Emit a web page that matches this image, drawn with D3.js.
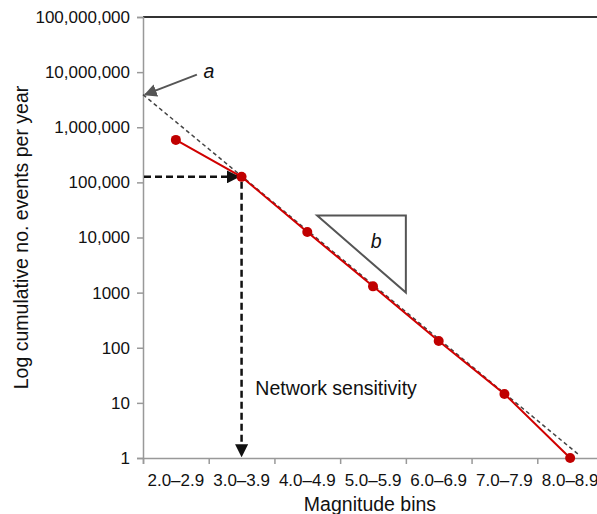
<!DOCTYPE html>
<html>
<head>
<meta charset="utf-8">
<script src="https://cdn.jsdelivr.net/npm/d3@7"></script>
<style>
body { margin: 0; background: #fff; }
text { font-family: "Liberation Sans", Arial, sans-serif; }
</style>
</head>
<body>
<svg></svg>
<script>
var bins = ["2.0–2.9", "3.0–3.9", "4.0–4.9", "5.0–5.9", "6.0–6.9", "7.0–7.9", "8.0–8.9"];
var counts = [590000, 126000, 12600, 1300, 133, 14.5, 1];
var yTicks = [1, 10, 100, 1000, 10000, 100000, 1000000, 10000000, 100000000];
// fitted Gutenberg-Richter line, position in bin units
var fitPos = [0, 6.65];
var fitVals = [3900000, 1.1];
// annotation anchors (bin units, events per year)
var triPos = [2.65, 4.0, 4.0];
var triVals = [25000, 25000, 1000];

var width = 597, height = 514;
var svg = d3.select("svg").attr("width", width).attr("height", height);

var plotLeft = 143, plotRight = 603, plotTop = 17, plotBottom = 458;

var x = d3.scaleBand().domain(bins).range([plotLeft, plotRight]).padding(0);
var xPos = d3.scaleLinear().domain([0, bins.length]).range([plotLeft, plotRight]);
var y = d3.scaleLog().domain([1, 1e8]).range([plotBottom, plotTop]);

var fmt = function(d) { return d < 10000 ? String(d) : d3.format(",")(d); };

// top frame line
svg.append("line")
    .attr("x1", plotLeft).attr("x2", width)
    .attr("y1", plotTop).attr("y2", plotTop)
    .attr("stroke", "#333").attr("stroke-width", 2);

var yAxis = svg.append("g")
    .attr("transform", "translate(" + plotLeft + ",0)")
    .call(d3.axisLeft(y).tickValues(yTicks).tickFormat(fmt).tickSize(6).tickPadding(7));
yAxis.selectAll("text").attr("font-size", 17).attr("fill", "#111");

var xAxis = svg.append("g")
    .attr("transform", "translate(0," + plotBottom + ")")
    .call(d3.axisBottom(xPos).tickValues(d3.range(0, bins.length + 1)).tickFormat("").tickSize(6));
xAxis.selectAll("text").remove();

svg.selectAll("g path.domain").attr("stroke", "#999").attr("stroke-width", 1.5);
svg.selectAll("g .tick line").attr("stroke", "#999").attr("stroke-width", 1.5);

svg.append("g").selectAll("text")
    .data(bins)
    .enter().append("text")
    .attr("x", function(d) { return x(d) + x.bandwidth() / 2; })
    .attr("y", plotBottom + 28)
    .attr("text-anchor", "middle")
    .attr("font-size", 17)
    .attr("fill", "#111")
    .text(function(d) { return d; });

svg.append("text")
    .attr("x", 370).attr("y", 511)
    .attr("text-anchor", "middle")
    .attr("font-size", 19.5)
    .attr("fill", "#111")
    .text("Magnitude bins");

svg.append("text")
    .attr("transform", "translate(28," + ((plotTop + plotBottom) / 2) + ") rotate(-90)")
    .attr("text-anchor", "middle")
    .attr("font-size", 19.5)
    .attr("fill", "#111")
    .text("Log cumulative no. events per year");

var defs = svg.append("defs");
function marker(id, color, size) {
    defs.append("marker")
        .attr("id", id)
        .attr("viewBox", "0 0 10 10")
        .attr("refX", 9).attr("refY", 5)
        .attr("markerWidth", size).attr("markerHeight", size)
        .attr("markerUnits", "userSpaceOnUse")
        .attr("orient", "auto")
        .append("path")
        .attr("d", "M0,0 L10,5 L0,10 z")
        .attr("fill", color);
}
marker("arrBlack", "#111", 13);
marker("arrGray", "#555", 13);

// fitted dashed line
svg.append("line")
    .attr("x1", xPos(fitPos[0])).attr("y1", y(fitVals[0]))
    .attr("x2", xPos(fitPos[1])).attr("y2", y(fitVals[1]))
    .attr("stroke", "#444").attr("stroke-width", 1.5)
    .attr("stroke-dasharray", "4,3");

// data line
var line = d3.line()
    .x(function(d, i) { return x(bins[i]) + x.bandwidth() / 2; })
    .y(function(d) { return y(d); });

svg.append("path")
    .datum(counts)
    .attr("d", line)
    .attr("fill", "none")
    .attr("stroke", "#d00000")
    .attr("stroke-width", 2);

// sensitivity arrows
var cx = x(bins[1]) + x.bandwidth() / 2;
svg.append("line")
    .attr("x1", plotLeft + 1).attr("y1", y(counts[1]))
    .attr("x2", cx - 3).attr("y2", y(counts[1]))
    .attr("stroke", "#111").attr("stroke-width", 2.5)
    .attr("stroke-dasharray", "7,4")
    .attr("marker-end", "url(#arrBlack)");
svg.append("line")
    .attr("x1", cx).attr("y1", y(counts[1]) + 5)
    .attr("x2", cx).attr("y2", plotBottom - 2)
    .attr("stroke", "#111").attr("stroke-width", 2.5)
    .attr("stroke-dasharray", "7,4")
    .attr("marker-end", "url(#arrBlack)");

svg.append("g").selectAll("circle")
    .data(counts)
    .enter().append("circle")
    .attr("cx", function(d, i) { return x(bins[i]) + x.bandwidth() / 2; })
    .attr("cy", function(d) { return y(d); })
    .attr("r", 5)
    .attr("fill", "#c00000");

svg.append("text")
    .attr("x", xPos(1.71)).attr("y", 395)
    .attr("font-size", 19.5)
    .attr("fill", "#111")
    .text("Network sensitivity");

// intercept arrow a
svg.append("line")
    .attr("x1", xPos(0.82)).attr("y1", y(9000000))
    .attr("x2", xPos(0.03)).attr("y2", y(fitVals[0]))
    .attr("stroke", "#555").attr("stroke-width", 2)
    .attr("marker-end", "url(#arrGray)");
svg.append("text")
    .attr("x", xPos(0.92)).attr("y", y(9000000) + 3)
    .attr("font-size", 19.5)
    .attr("font-style", "italic")
    .attr("fill", "#111")
    .text("a");

// slope triangle b
svg.append("path")
    .attr("d", d3.line()(triPos.map(function(p, i) { return [xPos(p), y(triVals[i])]; })) + "Z")
    .attr("fill", "none")
    .attr("stroke", "#555")
    .attr("stroke-width", 2);
svg.append("text")
    .attr("x", xPos(3.55)).attr("y", y(6500))
    .attr("text-anchor", "middle")
    .attr("font-size", 19.5)
    .attr("font-style", "italic")
    .attr("fill", "#111")
    .text("b");
</script>
</body>
</html>
